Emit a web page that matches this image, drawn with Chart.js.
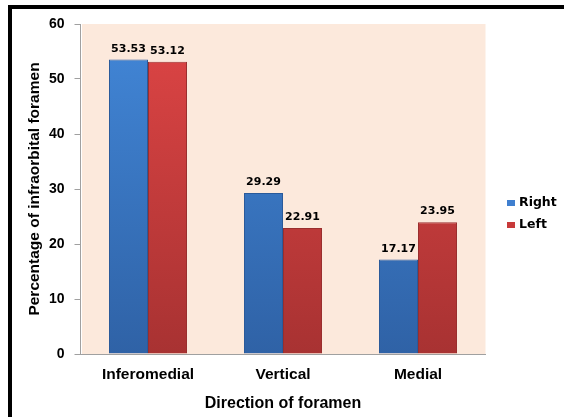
<!DOCTYPE html>
<html>
<head>
<meta charset="utf-8">
<script src="https://cdn.jsdelivr.net/npm/chart.js@4.4.0/dist/chart.umd.min.js"></script>
<style>
html,body{margin:0;padding:0;background:#fff;}
#wrap{width:564px;height:417px;position:relative;}
</style>
</head>
<body>
<div id="wrap"><canvas id="c" width="564" height="417"></canvas></div>
<script>
const categories = ["Inferomedial", "Vertical", "Medial"];
const rightValues = [53.53, 29.29, 17.17];
const leftValues = [53.12, 22.91, 23.95];
const seriesNames = ["Right", "Left"];
const yTicks = [0, 10, 20, 30, 40, 50, 60];

const FONT = "'Liberation Sans', Arial, sans-serif";
const LFONT = "'DejaVu Sans', Verdana, sans-serif";

function grad(ctx, area, top, bottom) {
  if (!area) return top;
  const g = ctx.createLinearGradient(0, area.top, 0, area.bottom);
  g.addColorStop(0, top);
  g.addColorStop(1, bottom);
  return g;
}

const framePlugin = {
  id: 'frame',
  beforeDraw(chart) {
    const ctx = chart.ctx, a = chart.chartArea;
    ctx.save();
    ctx.fillStyle = '#fff';
    ctx.fillRect(0, 0, chart.width, chart.height);
    ctx.fillStyle = '#FCE9DC';
    ctx.fillRect(a.left + 1.5, a.top, a.right - a.left - 1.5, a.bottom - a.top);
    ctx.fillStyle = '#000';
    ctx.fillRect(8, 5, chart.width - 8, 4);
    ctx.fillRect(8, 5, 4, chart.height - 5);
    ctx.restore();
  },
  afterDatasetsDraw(chart) {
    const ctx = chart.ctx;
    ctx.save();
    ctx.font = "bold 11px " + LFONT;
    ctx.fillStyle = '#000';
    ctx.textAlign = 'center';
    ctx.textBaseline = 'alphabetic';
    chart.data.datasets.forEach((ds, i) => {
      const meta = chart.getDatasetMeta(i);
      meta.data.forEach((bar, j) => {
        ctx.fillText(ds.data[j].toFixed(2), bar.x, bar.y - 8);
      });
    });
    // legend
    const lx = 507, ly = [203, 225];
    const cols = ['#3F7FCF', '#C83A3A'];
    ctx.font = "bold 12.5px " + LFONT;
    ctx.textAlign = 'left';
    ctx.textBaseline = 'middle';
    chart.data.datasets.forEach((ds, i) => {
      ctx.fillStyle = cols[i];
      ctx.fillRect(lx, ly[i] - 3, 8, 6);
      ctx.fillStyle = '#000';
      ctx.fillText(ds.label, lx + 12, ly[i]);
    });
    ctx.restore();
  }
};

new Chart(document.getElementById('c'), {
  type: 'bar',
  data: {
    labels: categories,
    datasets: [
      {
        label: seriesNames[0],
        data: rightValues,
        backgroundColor: c => grad(c.chart.ctx, c.chart.chartArea, '#4287D8', '#2F62A6'),
        borderColor: '#2A5A9A',
        borderWidth: 1,
        categoryPercentage: 0.578,
        barPercentage: 1
      },
      {
        label: seriesNames[1],
        data: leftValues,
        backgroundColor: c => grad(c.chart.ctx, c.chart.chartArea, '#DE4545', '#A83232'),
        borderColor: '#9A2E2E',
        borderWidth: 1,
        categoryPercentage: 0.578,
        barPercentage: 1
      }
    ]
  },
  plugins: [framePlugin],
  options: {
    responsive: false,
    animation: false,
    layout: { padding: { top: 24, right: 78.5, left: 25, bottom: 0 } },
    plugins: { legend: { display: false }, tooltip: { enabled: false } },
    scales: {
      x: {
        grid: { display: false, drawTicks: false },
        border: { color: '#A0A0A0', width: 1 },
        ticks: { color: '#000', font: { family: FONT, size: 15.5, weight: 'bold' }, padding: 11 },
        title: { display: true, text: 'Direction of foramen', color: '#000', font: { family: FONT, size: 16, weight: 'bold' }, padding: { top: 1 } },
        afterFit(s) { s.height = 63; }
      },
      y: {
        min: 0, max: 60,
        afterBuildTicks(s) { s.ticks = yTicks.map(v => ({ value: v })); },
        grid: { drawOnChartArea: false, tickLength: 6, color: '#A0A0A0' },
        border: { color: '#A0A0A0', width: 1 },
        ticks: { color: '#000', font: { family: FONT, size: 14, weight: 'bold' }, padding: 10 },
        title: { display: true, text: 'Percentage of infraorbital foramen', color: '#000', font: { family: FONT, size: 15.5, weight: 'bold' }, padding: { top: 0, bottom: 0 } },
        afterFit(s) { s.width = 55.5; }
      }
    }
  }
});
</script>
</body>
</html>
